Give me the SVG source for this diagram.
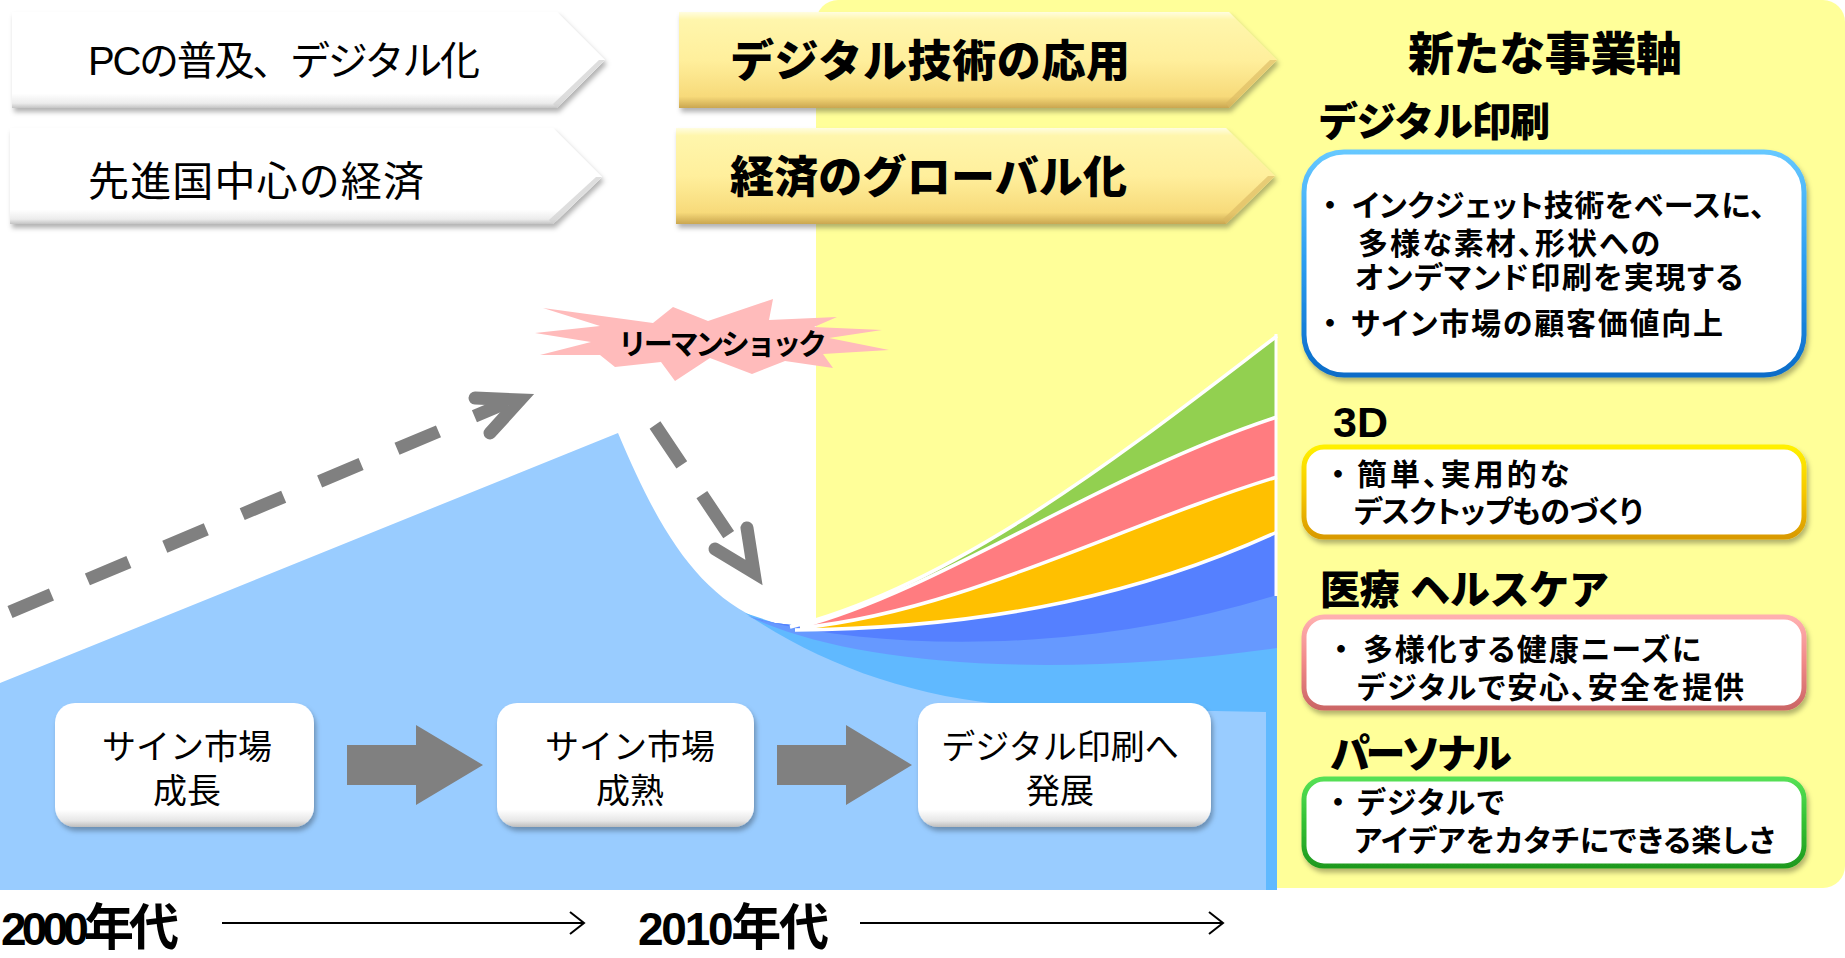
<svg xmlns="http://www.w3.org/2000/svg" width="1845" height="958" viewBox="0 0 1845 958">
<defs>
<style>
.jp{font-family:"Liberation Sans","Noto Sans CJK JP",sans-serif;fill:#000}
.reg{font-weight:400}
.hv{font-weight:900}
.bd{font-weight:700}
.pt{font-feature-settings:"palt"}
.dash{fill:none;stroke:#808080;stroke-width:13;stroke-linecap:butt}
.ahead{fill:none;stroke:#808080;stroke-width:13;stroke-linecap:round;stroke-linejoin:miter}
.sep{fill:none;stroke:#fff;stroke-width:3.5}
.tl{fill:none;stroke:#000;stroke-width:2}
.blk{fill:#808080}
</style>
<linearGradient id="gW" x1="0" y1="0" x2="0" y2="1">
<stop offset="0" stop-color="#ffffff"/><stop offset="0.85" stop-color="#ffffff"/><stop offset="0.95" stop-color="#ececec"/><stop offset="1" stop-color="#c4c4c4"/>
</linearGradient>
<linearGradient id="gY" x1="0" y1="0" x2="0" y2="1">
<stop offset="0" stop-color="#fffde0"/><stop offset="0.08" stop-color="#fff6ac"/><stop offset="0.5" stop-color="#ffef9c"/><stop offset="0.88" stop-color="#f7da7a"/><stop offset="1" stop-color="#caa650"/>
</linearGradient>
<linearGradient id="gBox" x1="0" y1="0" x2="0" y2="1">
<stop offset="0" stop-color="#ffffff"/><stop offset="0.86" stop-color="#ffffff"/><stop offset="0.95" stop-color="#e6e6e6"/><stop offset="1" stop-color="#bdbdbd"/>
</linearGradient>
<linearGradient id="sBlue" x1="0" y1="0" x2="0" y2="1">
<stop offset="0" stop-color="#66c8ff"/><stop offset="0.5" stop-color="#2b9cf0"/><stop offset="1" stop-color="#0a6cc8"/>
</linearGradient>
<linearGradient id="sGold" x1="0" y1="0" x2="0" y2="1">
<stop offset="0" stop-color="#fff000"/><stop offset="0.5" stop-color="#f6c800"/><stop offset="1" stop-color="#d99a00"/>
</linearGradient>
<linearGradient id="sPink" x1="0" y1="0" x2="0" y2="1">
<stop offset="0" stop-color="#ffb0b0"/><stop offset="0.5" stop-color="#f08888"/><stop offset="1" stop-color="#cc6666"/>
</linearGradient>
<linearGradient id="sGreen" x1="0" y1="0" x2="0" y2="1">
<stop offset="0" stop-color="#55e055"/><stop offset="0.5" stop-color="#33c033"/><stop offset="1" stop-color="#1f9a1f"/>
</linearGradient>
<filter id="sh" x="-5%" y="-10%" width="112%" height="135%">
<feDropShadow dx="2" dy="4" stdDeviation="2.5" flood-color="#000" flood-opacity="0.3"/>
</filter>
</defs>

<rect x="0" y="0" width="1845" height="958" fill="#ffffff"/>
<rect id="yellow-panel" x="816" y="0" width="1029" height="888" rx="22" fill="#ffff99"/>

<g id="market-area">
<path d="M0,683 L618,433 C665,545 710,615 800,632 L1277,632 L1277,890 L0,890 Z" fill="#99ccff"/>
<path d="M745,613 C830,670 930,705 1060,708 L1266,712 L1266,890 L1277,890 L1277,338 C1140,440 960,585 800,626 L775,623 Z" fill="#60b9ff"/>
<path d="M748,616 C850,665 1050,680 1277,648 L1277,338 C1140,440 960,585 800,626 L775,623 Z" fill="#6699ff"/>
<path d="M752,618 C900,655 1100,650 1277,595 L1277,338 C1140,440 960,585 800,626 L775,623 Z" fill="#5580ff"/>
<path d="M800,630 C1000,628 1150,590 1277,532 L1277,338 C1140,440 960,585 800,626 Z" fill="#ffc000"/>
<path d="M800,628 C960,612 1120,525 1277,477 L1277,338 C1140,440 960,585 800,626 Z" fill="#ff7c80"/>
<path d="M800,627 C940,590 1100,475 1277,417 L1277,338 C1140,440 960,585 800,626 Z" fill="#92d050"/>
<path class="sep" d="M790,627 C960,585 1140,440 1277,336"/>
<path class="sep" d="M800,627 C940,590 1100,475 1277,417"/>
<path class="sep" d="M800,628 C960,612 1120,525 1277,477"/>
<path class="sep" d="M795,630 C1000,628 1150,590 1277,532"/>
<line x1="1276" y1="334" x2="1276" y2="596" stroke="#fff" stroke-width="3"/>
</g>

<g id="connectors">
<line class="dash" x1="10" y1="612" x2="507" y2="402.5" stroke-dasharray="45 39"/>
<polyline class="ahead" points="475,398 520,400 490,433"/>
<line class="dash" x1="655" y1="425" x2="733" y2="541" stroke-dasharray="48 36"/>
<polyline class="ahead" points="747,528 754,572.5 715,549"/>
<polygon class="blk" points="347,745 416,745 416,725 483,765 416,805 416,785 347,785"/>
<polygon class="blk" points="777,745 846,745 846,725 912,765 846,805 846,785 777,785"/>
<line class="tl" x1="222" y1="923" x2="583" y2="923"/>
<polyline class="tl" points="570,912 584,923 570,934"/>
<line class="tl" x1="860" y1="923" x2="1222" y2="923"/>
<polyline class="tl" points="1209,912 1223,923 1209,934"/>
</g>

<g id="lehman">
<polygon fill="#ffbbbb" points="543,308 653,323 673,307 708,321 773,299 769,320 837,317 814,327 882,330 829,338 889,350 823,354 833,368 785,361 752,374 710,358 675,381 661,362 615,367 600,355 540,355 591,342 535,333 600,326"/>
<text class="jp bd" x="618" y="355" font-size="29" textLength="209">リーマンショック</text>
</g>

<g id="arrow-pc">
<polygon filter="url(#sh)" fill="url(#gW)" points="12,12 557,12 605,60 557,108 12,108"/>
<polygon fill="#d0d0d0" opacity="0.7" points="557,108 605,60 599,60 553,104"/>
<text class="jp reg" x="88" y="75" font-size="40" textLength="392">PCの普及、デジタル化</text>
</g>
<g id="arrow-economy">
<polygon filter="url(#sh)" fill="url(#gW)" points="10,128 553,128 602,177 553,224 10,224"/>
<polygon fill="#d0d0d0" opacity="0.7" points="553,224 602,177 596,177 549,220"/>
<text class="jp reg" x="88" y="196" font-size="41" textLength="336">先進国中心の経済</text>
</g>
<g id="arrow-digital">
<polygon filter="url(#sh)" fill="url(#gY)" points="679,12 1229,12 1277,60 1229,108 679,108"/>
<polygon fill="#d9b860" opacity="0.6" points="1229,108 1277,60 1270,60 1226,103"/>
<text class="jp hv" x="730" y="77" font-size="44" textLength="400">デジタル技術の応用</text>
</g>
<g id="arrow-global">
<polygon filter="url(#sh)" fill="url(#gY)" points="676,128 1226,128 1275,176 1226,224 676,224"/>
<polygon fill="#d9b860" opacity="0.6" points="1226,224 1275,176 1268,176 1223,219"/>
<text class="jp hv" x="730" y="193" font-size="44" textLength="397">経済のグローバル化</text>
</g>

<g id="title-new">
<text class="jp hv" x="1408" y="70" font-size="46" textLength="274">新たな事業軸</text>
</g>

<g id="node-digital-print">
<text class="jp hv" x="1318" y="136" font-size="40" textLength="232">デジタル印刷</text>
<rect x="1304" y="152" width="500" height="223" rx="40" fill="#ffffff" stroke="url(#sBlue)" stroke-width="5" filter="url(#sh)"/>
<text class="jp bd" x="1330" y="216" font-size="30" text-anchor="middle">・</text>
<text class="jp bd pt" x="1352" y="216" font-size="30" textLength="413">インクジェット技術をベースに、</text>
<text class="jp bd pt" x="1358" y="254" font-size="30" textLength="302">多様な素材、形状への</text>
<text class="jp bd pt" x="1355" y="288" font-size="30" textLength="388">オンデマンド印刷を実現する</text>
<text class="jp bd" x="1330" y="334" font-size="30" text-anchor="middle">・</text>
<text class="jp bd pt" x="1351" y="334" font-size="30" textLength="372">サイン市場の顧客価値向上</text>
</g>

<g id="node-3d">
<text class="jp hv" x="1333" y="437" font-size="43">3D</text>
<rect x="1304" y="447" width="500" height="90" rx="20" fill="#ffffff" stroke="url(#sGold)" stroke-width="5" filter="url(#sh)"/>
<text class="jp bd" x="1338" y="485" font-size="30" text-anchor="middle">・</text>
<text class="jp bd pt" x="1357" y="485" font-size="30" textLength="212">簡単、実用的な</text>
<text class="jp bd pt" x="1354" y="522" font-size="30" textLength="289">デスクトップものづくり</text>
</g>

<g id="node-health">
<text class="jp hv" x="1320" y="604" font-size="40" textLength="289">医療 ヘルスケア</text>
<rect x="1304" y="617" width="500" height="91" rx="20" fill="#ffffff" stroke="url(#sPink)" stroke-width="5" filter="url(#sh)"/>
<text class="jp bd" x="1341" y="660" font-size="30" text-anchor="middle">・</text>
<text class="jp bd pt" x="1363" y="660" font-size="30" textLength="338">多様化する健康ニーズに</text>
<text class="jp bd pt" x="1357" y="698" font-size="30" textLength="387">デジタルで安心、安全を提供</text>
</g>

<g id="node-personal">
<text class="jp hv" x="1330" y="768" font-size="40" textLength="182">パーソナル</text>
<rect x="1304" y="779" width="500" height="87" rx="20" fill="#ffffff" stroke="url(#sGreen)" stroke-width="5" filter="url(#sh)"/>
<text class="jp bd" x="1338" y="813" font-size="30" text-anchor="middle">・</text>
<text class="jp bd pt" x="1357" y="813" font-size="30" textLength="147">デジタルで</text>
<text class="jp bd pt" x="1354" y="851" font-size="30" textLength="421">アイデアをカタチにできる楽しさ</text>
</g>

<g id="node-growth">
<rect x="55" y="703" width="259" height="124" rx="20" fill="url(#gBox)" filter="url(#sh)"/>
<text class="jp reg" x="187" y="759" font-size="34" text-anchor="middle">サイン市場</text>
<text class="jp reg" x="187" y="803" font-size="34" text-anchor="middle">成長</text>
</g>
<g id="node-mature">
<rect x="497" y="703" width="257" height="124" rx="20" fill="url(#gBox)" filter="url(#sh)"/>
<text class="jp reg" x="630" y="759" font-size="34" text-anchor="middle">サイン市場</text>
<text class="jp reg" x="630" y="803" font-size="34" text-anchor="middle">成熟</text>
</g>
<g id="node-develop">
<rect x="918" y="703" width="293" height="124" rx="20" fill="url(#gBox)" filter="url(#sh)"/>
<text class="jp reg" x="1060" y="759" font-size="34" text-anchor="middle">デジタル印刷へ</text>
<text class="jp reg" x="1060" y="803" font-size="34" text-anchor="middle">発展</text>
</g>

<g id="timeline">
<text class="jp bd" x="1" y="945" textLength="178"><tspan font-size="46">2000</tspan><tspan font-size="50">年代</tspan></text>
<text class="jp bd" x="638" y="945" textLength="191"><tspan font-size="46">2010</tspan><tspan font-size="50">年代</tspan></text>
</g>
</svg>
